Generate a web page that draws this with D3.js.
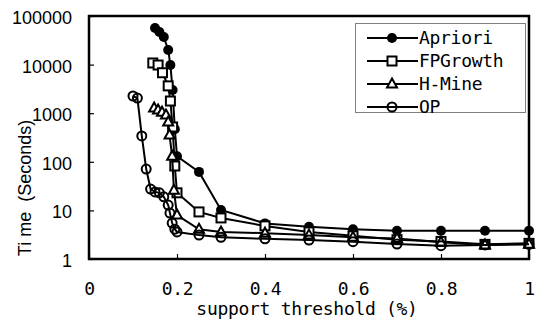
<!DOCTYPE html>
<html lang="en">
<head>
<meta charset="UTF-8">
<title>Time vs support threshold</title>
<script src="https://d3js.org/d3.v7.min.js"></script>
<style>
    body { margin: 0; background: #fff; }
    .mono { font-family: "DejaVu Sans Mono", monospace; font-size: 18px; letter-spacing: -0.3px; }
    .sans { font-family: "Liberation Sans", Arial, sans-serif; font-size: 18px; }
    .ylab { white-space: pre; }
    .line { fill: none; stroke: #000; stroke-width: 2px; }
</style>
</head>
<body>
<svg id="chart" width="551" height="320"></svg>
<script>
    // support threshold (%) / time (s)
    let aprioriX = [0.15, 0.16, 0.17, 0.18, 0.185, 0.19, 0.195, 0.2, 0.25, 0.3, 0.4, 0.5, 0.6, 0.7, 0.8, 0.9, 1.0]
    let aprioriY = [56500, 47000, 37000, 20000, 9800, 3000, 470, 130, 62, 10.2, 5.4, 4.6, 4.1, 3.8, 3.8, 3.8, 3.8]

    let fpX = [0.145, 0.157, 0.167, 0.18, 0.185, 0.19, 0.195, 0.2, 0.25, 0.3, 0.4, 0.5, 0.6, 0.7, 0.8, 0.9, 1.0]
    let fpY = [10800, 9800, 6800, 3650, 1780, 520, 82, 23, 9.3, 7, 4.8, 3.6, 3.0, 2.5, 2.3, 2.0, 2.1]

    let hmineX = [0.148, 0.157, 0.166, 0.175, 0.18, 0.183, 0.189, 0.193, 0.2, 0.25, 0.3, 0.4, 0.5, 0.6, 0.7, 0.8, 0.9, 1.0]
    let hmineY = [1280, 1160, 1050, 920, 660, 355, 130, 26, 8, 4.1, 3.6, 3.4, 3.1, 2.8, 2.65, 2.2, 1.95, 2.0]

    let opX = [0.1, 0.11, 0.12, 0.13, 0.14, 0.15, 0.16, 0.17, 0.18, 0.184, 0.189, 0.195, 0.2, 0.25, 0.3, 0.4, 0.5, 0.6, 0.7, 0.8, 0.9, 1.0]
    let opY = [2260, 2050, 340, 71, 27.5, 24, 23, 19, 12.9, 8.8, 5.5, 4.1, 3.6, 3.1, 2.8, 2.6, 2.46, 2.27, 2.03, 1.88, 1.95, 2.0]

    let xTicks = [0, 0.2, 0.4, 0.6, 0.8, 1]
    let yTicks = [1, 10, 100, 1000, 10000, 100000]
    let seriesNames = ["Apriori", "FPGrowth", "H-Mine", "OP"]

    let series = [
        {name: seriesNames[0], xs: aprioriX, ys: aprioriY, marker: "dot"},
        {name: seriesNames[1], xs: fpX, ys: fpY, marker: "square"},
        {name: seriesNames[2], xs: hmineX, ys: hmineY, marker: "triangle"},
        {name: seriesNames[3], xs: opX, ys: opY, marker: "ring"}
    ]

    let plotLeft = 89, plotRight = 529, plotTop = 16, plotBottom = 259
    let svg = d3.select("#chart")
    let x = d3.scaleLinear().domain([0, 1]).range([plotLeft, plotRight])
    let y = d3.scaleLog().domain([1, 100000]).range([plotBottom, plotTop])

    // axes (ticks pointing inward)
    let fmtX = d => d === 0 ? "0" : d === 1 ? "1" : d.toFixed(1)
    let xAxis = svg.append("g").attr("transform", `translate(0,${plotBottom})`)
        .call(d3.axisBottom(x).tickValues(xTicks).tickFormat(fmtX).tickSize(-5).tickPadding(23))
    xAxis.select(".domain").remove()
    xAxis.selectAll("text").attr("class", "mono").attr("fill", "#000")
    xAxis.attr("font-family", null).attr("font-size", null)
    xAxis.selectAll("line").attr("stroke-width", 1.2)

    let yAxis = svg.append("g").attr("transform", `translate(${plotLeft},0)`)
        .call(d3.axisLeft(y).tickValues(yTicks).tickFormat(d3.format("d")).tickSize(-5).tickPadding(17))
    yAxis.select(".domain").remove()
    yAxis.selectAll("text").attr("class", "sans").attr("fill", "#000").attr("dy", "0.42em")
    yAxis.attr("font-family", null).attr("font-size", null)
    yAxis.selectAll("line").attr("stroke-width", 1.2)

    svg.append("rect").attr("x", plotLeft).attr("y", plotTop).attr("width", plotRight - plotLeft).attr("height", plotBottom - plotTop)
        .attr("fill", "none").attr("stroke", "#000").attr("stroke-width", 2.5)

    function drawMarker(g, type, cx, cy) {
        if (type === "dot") {
            g.append("circle").attr("cx", cx).attr("cy", cy).attr("r", 5).attr("fill", "#000")
        } else if (type === "square") {
            g.append("rect").attr("x", cx - 4.5).attr("y", cy - 4.5).attr("width", 9).attr("height", 9)
                .attr("fill", "#fff").attr("stroke", "#000").attr("stroke-width", 2)
        } else if (type === "triangle") {
            g.append("path").attr("d", `M${cx},${cy - 5.5}L${cx + 5},${cy + 3.5}L${cx - 5},${cy + 3.5}Z`)
                .attr("fill", "#fff").attr("stroke", "#000").attr("stroke-width", 2)
        } else {
            g.append("circle").attr("cx", cx).attr("cy", cy).attr("r", 4.5)
                .attr("fill", "none").attr("stroke", "#000").attr("stroke-width", 2)
        }
    }

    let line = d3.line().x(d => x(d[0])).y(d => y(d[1]))
    series.forEach(s => {
        let pts = s.xs.map((v, i) => [v, s.ys[i]])
        let g = svg.append("g")
        g.append("path").attr("class", "line").attr("d", line(pts))
        pts.forEach(p => drawMarker(g, s.marker, x(p[0]), y(p[1])))
    })

    // legend
    let legend = svg.append("g")
    legend.append("rect").attr("x", 355.5).attr("y", 23.5).attr("width", 170).attr("height", 89)
        .attr("fill", "#fff").attr("stroke", "#808080").attr("stroke-width", 1)
    series.forEach((s, i) => {
        let ly = 38 + i * 23
        legend.append("line").attr("x1", 367).attr("x2", 418).attr("y1", ly).attr("y2", ly)
            .attr("stroke", "#000").attr("stroke-width", 2)
        drawMarker(legend, s.marker, 392, ly)
        legend.append("text").attr("class", "mono").attr("x", 419).attr("y", ly + 6).text(s.name)
    })

    // axis titles
    svg.append("text").attr("class", "mono").attr("x", 307).attr("y", 315).attr("text-anchor", "middle")
        .text("support threshold (%)")
    svg.append("text").attr("class", "sans ylab").attr("transform", "translate(31,188) rotate(-90)")
        .attr("text-anchor", "middle").text("Ti me  (Seconds)")
</script>
</body>
</html>
